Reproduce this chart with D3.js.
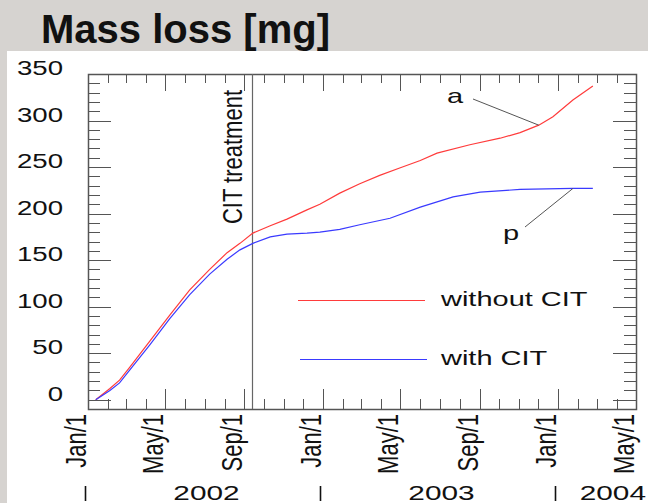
<!DOCTYPE html>
<html>
<head>
<meta charset="utf-8">
<script src="https://cdn.jsdelivr.net/npm/d3@7"></script>
<style>
  body { margin: 0; background: #d6d3d0; }
  svg { display: block; font-family: "Liberation Sans", Arial, sans-serif; }
</style>
</head>
<body>
<svg id="chart" width="648" height="503"></svg>
<script>
// measured mass loss, mg
const withoutCIT = [
    ["2002-01-13", 0], ["2002-02-04", 12], ["2002-02-19", 21], ["2002-03-07", 35],
    ["2002-04-07", 63], ["2002-05-08", 91], ["2002-06-08", 118], ["2002-07-09", 140],
    ["2002-08-05", 158], ["2002-08-25", 168], ["2002-09-14", 179], ["2002-10-11", 187],
    ["2002-11-06", 194], ["2002-12-07", 204], ["2002-12-27", 210], ["2003-01-27", 222],
    ["2003-02-27", 232], ["2003-03-30", 241], ["2003-04-30", 249], ["2003-06-01", 257],
    ["2003-06-27", 265], ["2003-08-17", 274], ["2003-10-03", 281], ["2003-11-03", 287],
    ["2003-12-02", 295], ["2003-12-24", 304], ["2004-01-24", 322], ["2004-02-24", 337]
];
const withCIT = [
    ["2002-01-13", 0], ["2002-02-04", 10], ["2002-02-19", 18], ["2002-03-07", 32],
    ["2002-04-07", 59], ["2002-05-08", 87], ["2002-06-08", 113], ["2002-07-09", 135],
    ["2002-08-05", 151], ["2002-08-25", 161], ["2002-09-14", 168], ["2002-10-11", 175],
    ["2002-11-06", 178], ["2002-12-07", 179], ["2002-12-27", 180], ["2003-01-27", 183],
    ["2003-02-27", 188], ["2003-04-15", 195], ["2003-06-01", 207], ["2003-07-22", 218],
    ["2003-09-02", 223], ["2003-11-03", 226], ["2004-01-24", 227], ["2004-02-24", 227]
];
const seriesNames = ["without CIT", "with CIT"];
const seriesColors = ["#ff3b3b", "#3a3aff"];
const yTickLabels = [0, 50, 100, 150, 200, 250, 300, 350];
const monthLabels = ["Jan/1", "May/1", "Sep/1"];
const years = ["2002", "2003", "2004"];
const treatmentDate = "2002-09-13";
const annotations = [
    {label: "a", date: "2003-12-02", value: 295},
    {label: "p", date: "2004-01-24", value: 227}
];

const parse = d3.timeParse("%Y-%m-%d");
const svg = d3.select("#chart");
const stretch = 1.38;

const frame = {left: 88, right: 636, top: 74, bottom: 409};

const x = d3.scaleTime()
    .domain([new Date(2002, 0, 1), new Date(2004, 4, 1)])
    .range([frame.left, frame.right]);
const y = d3.scaleLinear()
    .domain([-10, 350])
    .range([frame.bottom, frame.top]);

// white panel
svg.append("rect")
    .attr("x", 7).attr("y", 51)
    .attr("width", 641).attr("height", 452)
    .attr("fill", "#fff");

function label(text, tx, ty, size, opts) {
    opts = opts || {};
    let t = "translate(" + tx + "," + ty + ") scale(" + (opts.sx || stretch) + ",1)";
    if (opts.rotate) t += " rotate(" + opts.rotate + ")";
    return svg.append("text")
        .attr("transform", t)
        .attr("font-size", size)
        .attr("font-weight", opts.bold ? "bold" : null)
        .attr("text-anchor", opts.anchor || "start")
        .attr("fill", "#111")
        .text(text);
}

// title
label("Mass loss [mg]", 41, 43, 40, {sx: 1, bold: true});

// ticks
const axisColor = "#555";
const minorY = d3.range(-10, 351, 10);
const g = svg.append("g").attr("stroke", axisColor).attr("stroke-width", 1);

minorY.forEach(v => {
    let len = v % 50 === 0 ? 23 : 12;
    let yy = Math.round(y(v)) + 0.5;
    g.append("line").attr("x1", frame.left).attr("x2", frame.left + len).attr("y1", yy).attr("y2", yy);
    g.append("line").attr("x1", frame.right).attr("x2", frame.right - len).attr("y1", yy).attr("y2", yy);
});

const months = d3.timeMonth.range(x.domain()[0], d3.timeDay.offset(x.domain()[1], 1));
months.forEach(m => {
    let major = m.getMonth() % 4 === 0;
    let xx = Math.round(x(m)) + 0.5;
    g.append("line").attr("x1", xx).attr("x2", xx)
        .attr("y1", frame.bottom).attr("y2", frame.bottom - (major ? 20 : 10));
    g.append("line").attr("x1", xx).attr("x2", xx)
        .attr("y1", frame.top).attr("y2", frame.top + (major ? 17 : 9));
});

// frame
svg.append("rect")
    .attr("x", frame.left + 0.5).attr("y", frame.top + 0.5)
    .attr("width", frame.right - frame.left).attr("height", frame.bottom - frame.top)
    .attr("fill", "none").attr("stroke", axisColor).attr("stroke-width", 1.5);

// y labels
yTickLabels.forEach(v => label(v, 63, y(v) + 1, 20, {anchor: "end"}));

// x labels
months.filter(m => m.getMonth() % 4 === 0).forEach(m => {
    label(monthLabels[m.getMonth() / 4], x(m) - 2, 414, 22, {rotate: -90, anchor: "end", sx: 1.3});
});

// year row
years.forEach((yr, i) => {
    let jan = Math.round(x(new Date(+yr, 0, 1))) - 2.5;
    svg.append("line")
        .attr("x1", jan).attr("x2", jan)
        .attr("y1", 486).attr("y2", 501)
        .attr("stroke", "#111").attr("stroke-width", 1.6);
    if (i < years.length - 1) {
        label(yr, jan + 121, 500, 21, {anchor: "middle", sx: 1.42});
    } else {
        label(yr, 646, 500, 21, {anchor: "end", sx: 1.42});
    }
});

// treatment line
const tx = Math.round(x(parse(treatmentDate))) + 0.5;
svg.append("line")
    .attr("x1", tx).attr("x2", tx)
    .attr("y1", frame.top).attr("y2", frame.bottom)
    .attr("stroke", "#666").attr("stroke-width", 1.2);
label("CIT treatment", tx - 11, 90, 22, {rotate: -90, anchor: "end", sx: 1.25});

// curves
const line = d3.line()
    .x(d => x(parse(d[0])))
    .y(d => y(d[1]));

[withoutCIT, withCIT].forEach((s, i) => {
    svg.append("path")
        .datum(s)
        .attr("d", line)
        .attr("fill", "none")
        .attr("stroke", seriesColors[i])
        .attr("stroke-width", 1.2);
});

// legend
const legendY = [300, 359];
seriesNames.forEach((name, i) => {
    svg.append("line")
        .attr("x1", 298 + i * 2).attr("x2", 425 + i * 2)
        .attr("y1", legendY[i] + 0.5).attr("y2", legendY[i] + 0.5)
        .attr("stroke", seriesColors[i]).attr("stroke-width", 1.2);
    label(name, 441, legendY[i] + 6, 21);
});

// annotations a, p
const aPt = annotations[0], pPt = annotations[1];
let ax = x(parse(aPt.date)), ay = y(aPt.value);
svg.append("line").attr("x1", 473).attr("y1", 99).attr("x2", ax).attr("y2", ay)
    .attr("stroke", axisColor).attr("stroke-width", 1);
label(aPt.label, 447, 103, 21);

let px = x(parse(pPt.date)), py = y(pPt.value);
svg.append("line").attr("x1", 525).attr("y1", 227).attr("x2", px).attr("y2", py)
    .attr("stroke", axisColor).attr("stroke-width", 1);
label(pPt.label, 503, 240, 21);
</script>
</body>
</html>
